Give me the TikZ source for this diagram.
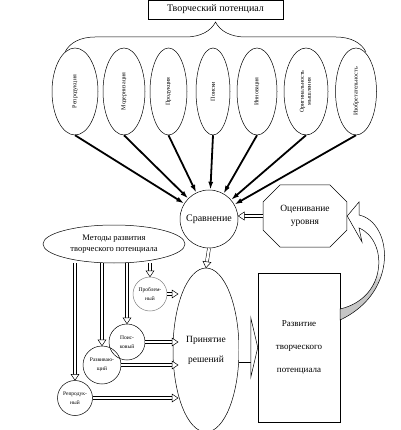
\documentclass[tikz,border=0pt]{standalone}
\usepackage{fontspec}
\setmainfont{Liberation Serif}
\usetikzlibrary{arrows.meta, positioning, shapes.geometric, shapes.misc}
\usetikzlibrary{decorations.pathreplacing, decorations.markings}

\pgfdeclareverticalshading{feedshade}{100bp}{color(0bp)=(gray!45); color(41bp)=(gray!45);
  color(46bp)=(white); color(100bp)=(white)}

\begin{document}
\begin{tikzpicture}[
    x=1pt, y=-1pt,
    box/.style={draw, line width=0.5pt, align=center, inner sep=1pt},
    oval/.style={ellipse, draw, line width=0.5pt, inner sep=0pt,
      minimum width=#1, minimum height=87pt, font=\fontsize{6}{7}\selectfont},
    small/.style={circle, draw, line width=0.5pt, align=center, inner sep=0pt,
      font=\fontsize{5.5}{9}\selectfont},
    heavy/.style={-{Latex[length=8pt, width=5pt]}, line width=1.8pt},
    hollow/.style={double, double distance=2.5pt, line width=0.5pt, shorten >=5.5pt,
      postaction={decorate, decoration={markings, mark=at position 1 with
        {\draw[line width=0.5pt, fill=white] (0pt,0pt) -- (-6pt,4pt) -- (-6pt,-4pt) -- cycle;}}}},
    bighollow/.style={double, double distance=29pt, line width=0.5pt, shorten >=5pt,
      postaction={decorate, decoration={markings, mark=at position 1 with
        {\draw[line width=0.5pt, fill=white] (0pt,0pt) -- (-7pt,30pt) -- (-7pt,-30pt) -- cycle;}}}}
  ]
    \useasboundingbox (0,0) rectangle (400,430);

    % top
    \node[box, minimum width=135pt, minimum height=19pt, font=\fontsize{10}{12}\selectfont]
      (tp) at (215.5,9.5) {Творческий потенциал};
    \draw[line width=0.5pt, decorate, decoration={brace, amplitude=30pt}]
      (65,52) -- (366,52);

    % components
    \node[oval=46pt] (e1) at (75,91.5)  {\rotatebox{90}{Репродукция}};
    \node[oval=42pt] (e2) at (124,91.5) {\rotatebox{90}{Модернизация}};
    \node[oval=37pt] (e3) at (168.5,91.5) {\rotatebox{90}{Продукция}};
    \node[oval=34pt] (e4) at (213,91.5) {\rotatebox{90}{Поиски}};
    \node[oval=40pt] (e5) at (257,91.5) {\rotatebox{90}{Инновация}};
    \node[oval=44pt] (e6) at (306,91.5)
      {\rotatebox{90}{\begin{tabular}{@{}c@{}}Оригинальность\\мышления\end{tabular}}};
    \node[oval=41pt] (e7) at (356,91.5) {\rotatebox{90}{Изобретательность}};

    % middle
    \node[circle, draw, line width=0.5pt, minimum size=58pt, inner sep=0pt,
      font=\fontsize{10}{12}\selectfont] (cmp) at (209,219) {Сравнение};
    \node[chamfered rectangle, chamfered rectangle xsep=16pt, draw, line width=0.5pt,
      minimum width=75pt, minimum height=62pt, align=center,
      font=\fontsize{9.5}{13}\selectfont] (oc) at (305,216) {Оценивание\\уровня};
    \node[ellipse, draw, line width=0.5pt, minimum width=142pt, minimum height=38pt,
      inner sep=0pt, align=center, font=\fontsize{8.5}{11}\selectfont]
      (meth) at (114,244) {Методы развития\\творческого потенциала};
    \node[ellipse, draw, line width=0.5pt, minimum width=66pt, minimum height=164pt,
      inner sep=0pt, align=center, font=\fontsize{9.5}{20}\selectfont]
      (dec) at (206,350) {Принятие\\решений};
    \node[box, minimum width=82pt, minimum height=149pt,
      font=\fontsize{9}{23}\selectfont] (dev) at (299,347.5)
      {Развитие\\творческого\\потенциала};

    % methods
    \node[small, minimum size=34pt, draw=gray] (pr) at (150,294) {Проблем-\\ный};
    \node[small, minimum size=36pt] (po) at (127,342) {Поис-\\ковый};
    \node[small, minimum size=38pt] (ra) at (102,365) {Развиваю-\\щий};
    \node[small, minimum size=35pt] (re) at (75,398)  {Репродук-\\ный};
    \coordinate (dl) at (178,0);

    % arrows to comparison
    \draw[heavy] (e1.south) -- (cmp);
    \draw[heavy] (e2.south) -- (cmp);
    \draw[heavy] (e3.south) -- (cmp);
    \draw[heavy] (e4.south) -- (cmp);
    \draw[heavy] (e5.south) -- (cmp);
    \draw[heavy] (e6.south) -- (cmp);
    \draw[heavy] (e7.south) -- (cmp);

    % hollow arrows
    \draw[hollow] (oc.west) -- (oc.west -| cmp.east);
    \draw[hollow] (cmp.south) -- (dec.north);
    \draw[hollow] (pr |- meth.south) -- (pr.north);
    \draw[hollow] (po |- meth.south) -- (po.north);
    \draw[hollow] (ra |- meth.south) -- (ra.north);
    \draw[hollow] (re |- meth.south) -- (re.north);
    \draw[hollow] (pr.east) -- (pr -| dl);
    \draw[hollow] (po.east) -- (po -| dl);
    \draw[hollow] (ra.east) -- (ra -| dl);
    \draw[hollow] (re.east) -- (re -| dl);
    \draw[bighollow] (dec.east |- dev.west) -- (dev.west);

    % feedback
    \draw[line width=0.5pt, shading=feedshade]
      (oc.east) -- (359,202) -- (359,215)
      .. controls (392,222) and (400,292) .. (340,320)
      -- (340,309)
      .. controls (388,298) and (388,240) .. (359,228)
      -- (362,242) -- cycle;
  \end{tikzpicture}
\end{document}
